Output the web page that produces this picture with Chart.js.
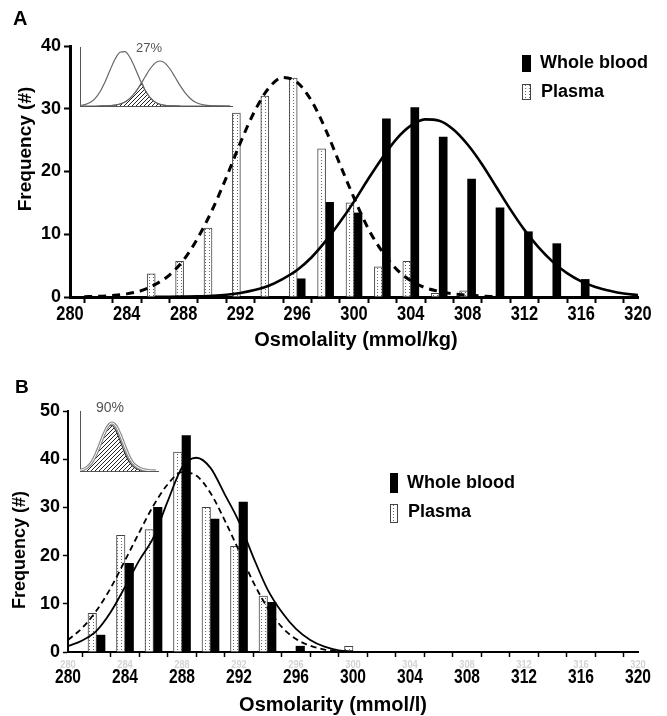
<!DOCTYPE html>
<html>
<head>
<meta charset="utf-8">
<script src="https://cdn.jsdelivr.net/npm/chart.js@4.4.0/dist/chart.umd.min.js"></script>
<style>
  body { margin: 0; background: #fff; }
  #wrap { position: relative; width: 667px; height: 716px; }
  canvas { position: absolute; }
</style>
</head>
<body>
<div id="wrap">
  <canvas id="chartA" width="667" height="360" style="left:0;top:0"></canvas>
  <canvas id="chartB" width="667" height="356" style="left:0;top:360px"></canvas>
  <canvas id="insetA" width="170" height="74" style="left:70px;top:36px"></canvas>
  <canvas id="insetB" width="100" height="80" style="left:70px;top:396px"></canvas>
</div>
<script>
// ---- panel A data (osmolality) ----
const binsPlasmaA = [286, 288, 290, 292, 294, 296, 298, 300, 302, 304, 306, 308];
const plasmaA = [3.7, 5.7, 11.0, 29.3, 32.0, 34.9, 23.6, 15.0, 4.8, 5.7, 0.6, 1.0];
const binsWholeA = [296, 298, 300, 302, 304, 306, 308, 310, 312, 314, 316];
const wholeA = [2.9, 15.1, 13.4, 28.4, 30.2, 25.5, 18.8, 14.2, 10.4, 8.5, 2.8];

const fitXPlasmaA = [281, 282, 283, 284, 285, 286, 287, 288, 289, 290, 291, 292, 293, 294, 295,
  296, 297, 298, 299, 300, 301, 302, 303, 304, 305, 306, 307, 308, 309, 310];
const fitPlasmaA = [0.05, 0.1, 0.25, 0.5, 1.0, 2.0, 3.5, 5.9, 9.4, 13.8, 19.0, 24.6, 29.6, 33.3, 35.0,
  34.2, 31.3, 26.7, 21.2, 15.8, 10.9, 7.2, 4.4, 2.6, 1.5, 0.9, 0.5, 0.3, 0.15, 0.05];
const fitXWholeA = [286, 287, 288, 289, 290, 291, 292, 293, 294, 295, 296, 297, 298, 299, 300, 301, 302, 303,
  304, 305, 306, 307, 308, 309, 310, 311, 312, 313, 314, 315, 316, 317, 318, 319, 320];
const fitWholeA = [0.03, 0.05, 0.08, 0.12, 0.2, 0.35, 0.65, 1.1, 1.8, 2.9, 4.3, 6.3, 8.9, 11.9, 15.2, 18.8, 22.2, 25.2,
  27.3, 28.3, 28.1, 26.7, 24.3, 21.2, 17.6, 14.0, 10.7, 7.9, 5.6, 3.8, 2.5, 1.6, 1.0, 0.55, 0.3];

// ---- panel B data (osmolarity) ----
const binsPlasmaB = [282, 284, 286, 288, 290, 292, 294, 300];
const plasmaB = [8.0, 24.2, 25.4, 41.5, 30.0, 21.9, 11.6, 1.2];
const binsWholeB = [282, 284, 286, 288, 290, 292, 294, 296];
const wholeB = [3.5, 18.4, 30.0, 44.9, 27.6, 31.1, 10.3, 1.2];

const fitXB = [280, 281, 282, 283, 284, 285, 286, 287, 288, 289, 290, 291, 292, 293, 294, 295, 296, 297, 298, 299, 300];
const fitWholeB = [1.2, 2.4, 4.4, 8.3, 13.5, 19.0, 23.8, 31.3, 38.3, 40.3, 38.2, 32.7, 27.0, 19.7, 13.0, 8.3, 4.8, 2.5, 1.1, 0.35, 0.1];
const fitPlasmaB = [2.5, 5.0, 8.6, 13.3, 19.0, 24.8, 30.4, 34.8, 37.3, 36.6, 33.0, 27.3, 21.0, 14.5, 9.2, 5.2, 2.7, 1.3, 0.5, 0.15, 0.05];

// ---- ticks ----
const xTicks = [280, 282, 284, 286, 288, 290, 292, 294, 296, 298, 300, 302, 304, 306, 308, 310, 312, 314, 316, 318, 320];
const xTickLabels = [280, 284, 288, 292, 296, 300, 304, 308, 312, 316, 320];
const yTicksA = [0, 10, 20, 30, 40];
const yTicksB = [0, 10, 20, 30, 40, 50];

// ---- insets (overlap sketches) ----
const insetXA = [0, 5, 10, 15, 20, 25, 30, 35, 40, 45, 50, 55, 60, 65, 70, 75, 80, 85, 90, 95, 100,
  105, 110, 115, 120, 125, 130, 135, 140, 145, 150];
const insetCurve1A = [0.5, 1.4, 3.4, 7.4, 14.3, 24.1, 35.7, 46.7, 53.7, 54.4, 48.5, 38.1, 26.3, 16.0, 8.6, 4.0, 1.7, 0.6, 0.2, 0.05, 0,
  0, 0, 0, 0, 0, 0, 0, 0, 0, 0];
const insetCurve2A = [0, 0, 0, 0, 0.04, 0.1, 0.34, 0.86, 2.0, 4.1, 7.8, 13.3, 20.6, 29.0, 37.0, 42.9, 45.0, 42.9, 37.0, 29.0, 20.6,
  13.3, 7.8, 4.1, 2.0, 0.86, 0.34, 0.13, 0.04, 0, 0];
const insetOverlapXA = [20, 25, 30, 35, 40, 45, 50, 55, 60, 61.5, 65, 70, 75, 80, 85, 90, 95, 100];
const insetOverlapA = [0.04, 0.1, 0.34, 0.86, 2.0, 4.1, 7.8, 13.3, 20.6, 23.0, 16.0, 8.6, 4.0, 1.7, 0.6, 0.2, 0.05, 0];

const insetXB = [0, 4, 8, 12, 16, 20, 24, 28, 32, 36, 40, 44, 48, 52, 56, 60, 64, 68, 72, 76];
const insetOuterB = [0.7, 1.9, 4.4, 9.2, 16.7, 26.5, 36.8, 44.9, 48.0, 44.9, 36.8, 26.5, 16.7, 9.2, 5.0, 2.6, 1.2, 0.45, 0.12, 0];
const insetInnerB = [0.67, 1.9, 4.6, 9.7, 17.7, 27.9, 38.0, 44.7, 45.5, 40.1, 30.5, 20.1, 11.4, 5.6, 2.6, 1.1, 0.4, 0.12, 0, 0];

const sans = "'Liberation Sans', Arial, sans-serif";

const pts = (xs, ys) => xs.map((x, i) => ({ x: x, y: ys[i] }));

function dots(ctx) {
  const c = document.createElement("canvas");
  c.width = 4; c.height = 3;
  const g = c.getContext("2d");
  g.fillStyle = "#fff"; g.fillRect(0, 0, 4, 3);
  g.fillStyle = "#666"; g.fillRect(1, 1, 1, 1);
  return ctx.createPattern(c, "repeat");
}

function hatch(ctx) {
  const c = document.createElement("canvas");
  c.width = 4; c.height = 4;
  const g = c.getContext("2d");
  g.strokeStyle = "#222"; g.lineWidth = 1;
  g.beginPath();
  g.moveTo(0, 4); g.lineTo(4, 0);
  g.moveTo(-1, 1); g.lineTo(1, -1);
  g.moveTo(3, 5); g.lineTo(5, 3);
  g.stroke();
  return ctx.createPattern(c, "repeat");
}

// titles, legend boxes, condensed x tick labels and faint duplicate tick labels
const decor = {
  id: "decor",
  afterDraw(chart, args, o) {
    const ctx = chart.ctx;
    ctx.save();
    (o.texts || []).forEach((t) => {
      ctx.save();
      ctx.font = t.font;
      ctx.fillStyle = t.color || "#000";
      ctx.textAlign = t.align || "center";
      ctx.textBaseline = "middle";
      ctx.translate(t.x, t.y);
      if (t.rotate) ctx.rotate(t.rotate);
      ctx.fillText(t.text, 0, 0);
      ctx.restore();
    });
    (o.legend || []).forEach((it) => {
      const ds = chart.data.datasets[it.ds];
      const [bx, by, bw, bh] = it.box;
      ctx.fillStyle = ds.backgroundColor;
      ctx.fillRect(bx, by, bw, bh);
      if (ds.borderWidth) {
        ctx.strokeStyle = ds.borderColor;
        ctx.lineWidth = 1;
        ctx.strokeRect(bx + 0.5, by + 0.5, bw - 1, bh - 1);
      }
      ctx.font = o.legendFont;
      ctx.fillStyle = "#000";
      ctx.textAlign = "left";
      ctx.textBaseline = "middle";
      ctx.fillText(ds.label, it.tx, it.ty);
    });
    const sx = chart.scales.x;
    [o.ghost, o.xLabels].forEach((lab) => {
      if (!lab) return;
      ctx.font = lab.font;
      ctx.fillStyle = lab.color;
      ctx.textAlign = "center";
      ctx.textBaseline = "middle";
      lab.values.forEach((v) => {
        ctx.save();
        ctx.translate(sx.getPixelForValue(v), lab.y);
        ctx.scale(lab.squeeze, 1);
        ctx.fillText(String(v), 0, 0);
        ctx.restore();
      });
    });
    ctx.restore();
  },
};

function mainChart(id, cfg) {
  const el = document.getElementById(id);
  const ctx = el.getContext("2d");
  const dotFill = dots(ctx);
  return new Chart(el, {
    type: "bar",
    plugins: [decor],
    data: {
      datasets: [
        {
          type: "line", label: "Plasma fit", data: pts(cfg.fitXP, cfg.fitP),
          borderColor: "#000", borderWidth: cfg.dashW, borderDash: cfg.dash,
          pointRadius: 0, cubicInterpolationMode: "monotone", fill: false, order: 0,
        },
        {
          type: "line", label: "Whole blood fit", data: pts(cfg.fitXW, cfg.fitW),
          borderColor: "#000", borderWidth: cfg.solidW,
          pointRadius: 0, cubicInterpolationMode: "monotone", fill: false, order: 0,
        },
        {
          label: "Plasma", data: pts(cfg.binsP, cfg.plasma),
          backgroundColor: dotFill, borderColor: "#444", borderWidth: 1, borderSkipped: "bottom",
          barThickness: cfg.barW, order: 1,
        },
        {
          label: "Whole blood", data: pts(cfg.binsW, cfg.whole),
          backgroundColor: "#000", borderWidth: 0,
          barThickness: cfg.barW, order: 1,
        },
      ],
    },
    options: {
      responsive: false,
      animation: false,
      events: [],
      layout: { padding: cfg.padding },
      plugins: {
        legend: { display: false },
        tooltip: { enabled: false },
        decor: cfg.decor,
      },
      scales: {
        x: {
          type: "linear", min: 280, max: 320, offset: false,
          afterBuildTicks: (s) => { s.ticks = xTicks.map((v) => ({ value: v })); },
          afterFit: (s) => { s.height = cfg.xH; },
          ticks: { display: false },
          grid: { drawOnChartArea: false, tickLength: cfg.tickLen, tickWidth: cfg.tickW, tickColor: "#000" },
          border: { color: "#000", width: cfg.axisW },
        },
        y: {
          min: 0, max: cfg.yMax,
          afterBuildTicks: (s) => { s.ticks = cfg.yTicks.map((v) => ({ value: v })); },
          afterFit: (s) => { s.width = cfg.yW; },
          ticks: { padding: 3, color: "#000", font: { family: sans, size: 18, weight: "bold" } },
          grid: { drawOnChartArea: false, tickLength: cfg.tickLen, tickWidth: cfg.tickW, tickColor: "#000" },
          border: { color: "#000", width: cfg.axisW },
        },
      },
    },
  });
}

mainChart("chartA", {
  fitXP: fitXPlasmaA, fitP: fitPlasmaA, fitXW: fitXWholeA, fitW: fitWholeA,
  binsP: binsPlasmaA, plasma: plasmaA, binsW: binsWholeA, whole: wholeA,
  dashW: 3, dash: [8, 6], solidW: 2.6, barW: 8,
  padding: { left: 0, right: 29, top: 46, bottom: 0 },
  xH: 63, tickLen: 6, tickW: 2, axisW: 3,
  yMax: 40, yTicks: yTicksA, yW: 70,
  decor: {
    texts: [
      { text: "A", x: 13, y: 19, align: "left", font: "bold 20px " + sans },
      { text: "Frequency (#)", x: 26, y: 149, rotate: -Math.PI / 2, font: "bold 19px " + sans },
      { text: "Osmolality (mmol/kg)", x: 356, y: 340, font: "bold 20px " + sans },
    ],
    legendFont: "bold 18px " + sans,
    legend: [
      { ds: 3, box: [522, 55, 9, 17], tx: 540, ty: 63.5 },
      { ds: 2, box: [522, 84, 9, 16], tx: 541, ty: 92 },
    ],
    xLabels: { values: xTickLabels, y: 314, color: "#000", squeeze: 0.82, font: "bold 20px " + sans },
  },
});

mainChart("chartB", {
  fitXP: fitXB, fitP: fitPlasmaB, fitXW: fitXB, fitW: fitWholeB,
  binsP: binsPlasmaB, plasma: plasmaB, binsW: binsWholeB, whole: wholeB,
  dashW: 1.8, dash: [6, 4], solidW: 1.8, barW: 8.5,
  padding: { left: 0, right: 29, top: 51, bottom: 0 },
  xH: 64, tickLen: 5, tickW: 1.5, axisW: 2,
  yMax: 50, yTicks: yTicksB, yW: 68,
  decor: {
    texts: [
      { text: "B", x: 15, y: 28, align: "left", font: "bold 19px " + sans },
      { text: "Frequency (#)", x: 20, y: 190, rotate: -Math.PI / 2, font: "bold 18px " + sans },
      { text: "Osmolarity (mmol/l)", x: 333, y: 345, font: "bold 20px " + sans },
    ],
    legendFont: "bold 18px " + sans,
    legend: [
      { ds: 3, box: [390, 113, 8, 20], tx: 407, ty: 122.7 },
      { ds: 2, box: [390, 144, 8, 19], tx: 408, ty: 151.7 },
    ],
    ghost: { values: xTickLabels, y: 305, color: "#d4d4d4", squeeze: 0.85, font: "bold 11px " + sans },
    xLabels: { values: xTickLabels, y: 317.5, color: "#000", squeeze: 0.78, font: "bold 20px " + sans },
  },
});

function insetChart(id, cfg) {
  const el = document.getElementById(id);
  const ctx = el.getContext("2d");
  return new Chart(el, {
    type: "line",
    plugins: [decor],
    data: { datasets: cfg.datasets(hatch(ctx)) },
    options: {
      responsive: false,
      animation: false,
      events: [],
      layout: { padding: cfg.padding },
      elements: { point: { radius: 0 }, line: { cubicInterpolationMode: "monotone" } },
      plugins: { legend: { display: false }, tooltip: { enabled: false }, decor: { texts: cfg.texts } },
      scales: {
        x: {
          type: "linear", min: 0, max: cfg.xMax,
          ticks: { display: false }, grid: { display: false },
          border: { color: "#555", width: 1 },
          afterFit: (s) => { s.height = 0; },
        },
        y: {
          min: 0, max: cfg.yMax,
          ticks: { display: false }, grid: { display: false },
          border: { color: "#555", width: 1 },
          afterFit: (s) => { s.width = 0; },
        },
      },
    },
  });
}

insetChart("insetA", {
  xMax: 152, yMax: 59,
  padding: { left: 10, right: 8, top: 11, bottom: 4 },
  texts: [{ text: "27%", x: 79, y: 12, color: "#555", font: "13px " + sans }],
  datasets: (h) => [
    { data: pts(insetOverlapXA, insetOverlapA), fill: "origin", backgroundColor: h, borderColor: "#222", borderWidth: 0.8, order: 2 },
    { data: pts(insetXA, insetCurve1A), borderColor: "#666", borderWidth: 1.2, fill: false, order: 1 },
    { data: pts(insetXA, insetCurve2A), borderColor: "#666", borderWidth: 1.2, fill: false, order: 1 },
  ],
});

insetChart("insetB", {
  xMax: 78, yMax: 60,
  padding: { left: 10, right: 12, top: 15, bottom: 5 },
  texts: [{ text: "90%", x: 40, y: 12, color: "#555", font: "14px " + sans }],
  datasets: (h) => [
    { data: pts(insetXB, insetOuterB), borderColor: "#fff", borderWidth: 1, fill: false, order: 0 },
    { data: pts(insetXB, insetOuterB), borderColor: "#8a8a8a", borderWidth: 3.2, fill: false, order: 1 },
    { data: pts(insetXB, insetInnerB), fill: "origin", backgroundColor: h, borderColor: "#333", borderWidth: 1.2, order: 2 },
  ],
});
</script>
</body>
</html>
